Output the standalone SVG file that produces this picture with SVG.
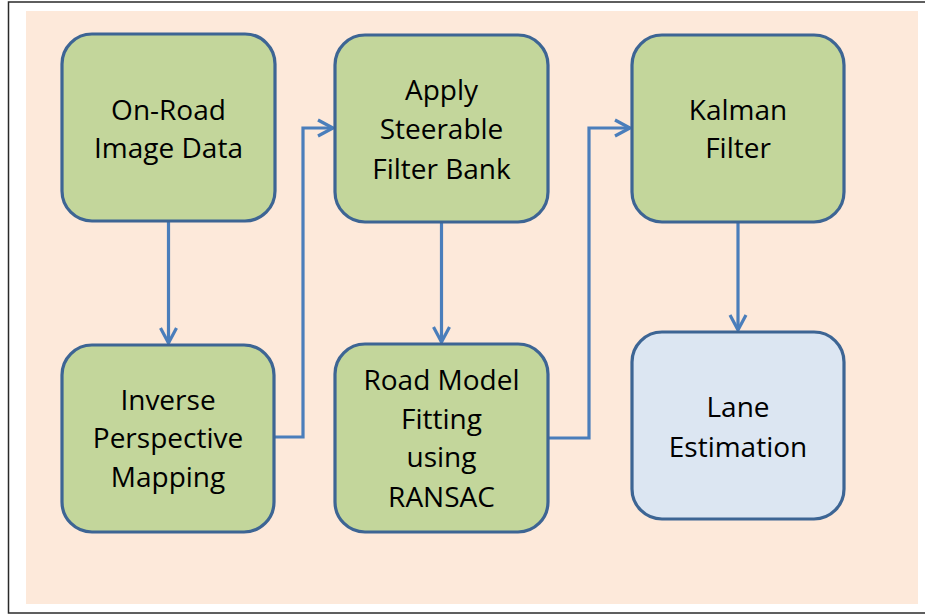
<svg xmlns="http://www.w3.org/2000/svg" width="925" height="614" viewBox="0 0 925 614">
  <defs>
    <style>
      .frame { fill: #ffffff; stroke: #2a2a2a; stroke-width: 1.5; }
      .panel { fill: #fde9da; }
      .box { fill: #c3d69b; stroke: #3d6594; stroke-width: 3.2; }
      .box-out { fill: #dce6f2; stroke: #3d6594; stroke-width: 3.2; }
      .label { font-family: "Open Sans", "Noto Sans", "DejaVu Sans", sans-serif; font-size: 28px; fill: #000000; text-anchor: middle; }
      .wire { fill: none; stroke: #4a7ebb; stroke-width: 3.2; stroke-linejoin: miter; }
    </style>
    <marker id="chevron" viewBox="0 0 20 20" refX="18" refY="10" markerWidth="20" markerHeight="20" markerUnits="userSpaceOnUse" orient="auto">
      <polyline points="3,2 18,10 3,18" fill="none" stroke="#4a7ebb" stroke-width="3.2"/>
    </marker>
  </defs>

  <!-- page frame and tinted panel -->
  <rect class="frame" x="8.5" y="2" width="920" height="611"/>
  <rect class="panel" x="26" y="11" width="892" height="593"/>

  <!-- connectors -->
  <g id="connectors">
    <path class="wire" d="M168.5,222 V343" marker-end="url(#chevron)"/>
    <path class="wire" d="M275,437 H303 V128 H333" marker-end="url(#chevron)"/>
    <path class="wire" d="M441.5,223 V342" marker-end="url(#chevron)"/>
    <path class="wire" d="M549,438 H589 V128 H630" marker-end="url(#chevron)"/>
    <path class="wire" d="M738,223 V330" marker-end="url(#chevron)"/>
  </g>

  <g id="node-onroad">
    <rect class="box" x="62" y="34" width="213" height="187" rx="30" ry="30"/>
    <text class="label" x="168.5" y="120">On-Road</text>
    <text class="label" x="168.5" y="158">Image Data</text>
  </g>

  <g id="node-ipm">
    <rect class="box" x="62" y="345" width="212" height="187" rx="30" ry="30"/>
    <text class="label" x="168" y="410">Inverse</text>
    <text class="label" x="168" y="448">Perspective</text>
    <text class="label" x="168" y="487">Mapping</text>
  </g>

  <g id="node-steerable">
    <rect class="box" x="335" y="35" width="213" height="187" rx="30" ry="30"/>
    <text class="label" x="441.5" y="100">Apply</text>
    <text class="label" x="441.5" y="139">Steerable</text>
    <text class="label" x="441.5" y="179">Filter Bank</text>
  </g>

  <g id="node-ransac">
    <rect class="box" x="335" y="344" width="213" height="188" rx="30" ry="30"/>
    <text class="label" x="441.5" y="390">Road Model</text>
    <text class="label" x="441.5" y="429">Fitting</text>
    <text class="label" x="441.5" y="467">using</text>
    <text class="label" x="441.5" y="507">RANSAC</text>
  </g>

  <g id="node-kalman">
    <rect class="box" x="632" y="35" width="212" height="187" rx="30" ry="30"/>
    <text class="label" x="738" y="120">Kalman</text>
    <text class="label" x="738" y="158">Filter</text>
  </g>

  <g id="node-lane">
    <rect class="box-out" x="632" y="332" width="212" height="187" rx="30" ry="30"/>
    <text class="label" x="738" y="417">Lane</text>
    <text class="label" x="738" y="457">Estimation</text>
  </g>
</svg>
